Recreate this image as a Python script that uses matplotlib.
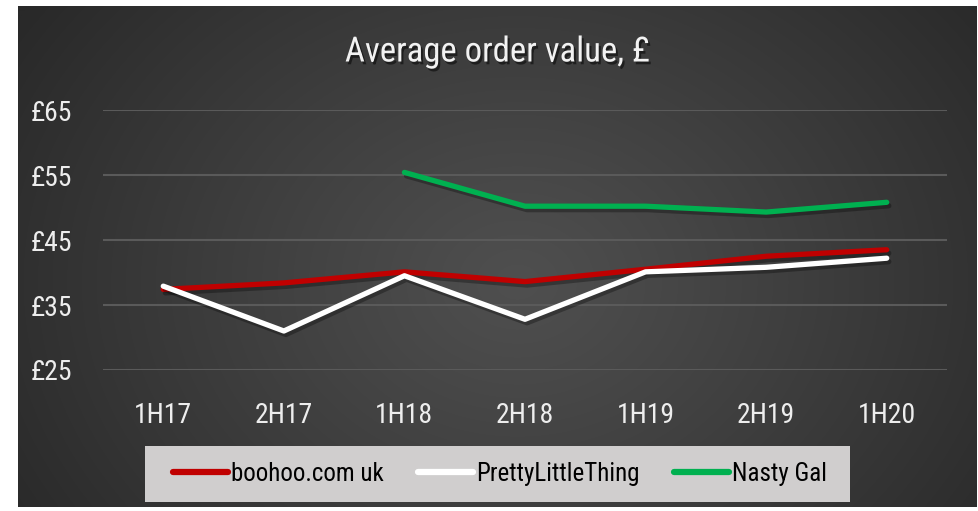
import numpy as np
import matplotlib
matplotlib.use("Agg")
import matplotlib.pyplot as plt
import matplotlib.patheffects as pe
from matplotlib import font_manager as fm
from matplotlib.patches import Rectangle

# ---- data ----
periods = ["1H17", "2H17", "1H18", "2H18", "1H19", "2H19", "1H20"]
boohoo = [37.4, 38.4, 40.1, 38.6, 40.5, 42.5, 43.5]
plt_vals = [37.9, 31.0, 39.5, 32.8, 40.1, 40.8, 42.2]
nasty_gal = [np.nan, np.nan, 55.4, 50.2, 50.2, 49.3, 50.8]
series_names = ["boohoo.com uk", "PrettyLittleThing", "Nasty Gal"]
yticks = [25, 35, 45, 55, 65]
ytick_labels = ["£25", "£35", "£45", "£55", "£65"]
title = "Average order value, £"

# ---- font selection (prefer a narrow face) ----
names = {f.name for f in fm.fontManager.ttflist}
font_family = None
font_stretch = "normal"
for cand in ["Liberation Sans Narrow", "Roboto Condensed", "Open Sans Condensed",
             "DejaVu Sans Condensed", "Noto Sans Condensed"]:
    if cand in names:
        font_family = cand
        break
if font_family is None:
    font_family = "Roboto"
plt.rcParams["font.family"] = [font_family, "DejaVu Sans"]

W, H = 979, 511
fig = plt.figure(figsize=(W / 100, H / 100), dpi=100)
fig.patch.set_facecolor("white")

def fx(px):
    return px / W

def fy(py):
    return 1 - py / H

# ---- background radial gradient panel ----
bx0, by0, bx1, by1 = 18, 6, 977, 507
bg = fig.add_axes([fx(bx0), fy(by1), fx(bx1 - bx0), (by1 - by0) / H])
bg.set_axis_off()
ny, nx = 250, 480
yy, xx = np.mgrid[0:ny, 0:nx]
cx, cy = nx * 0.52, ny * 0.55
r = np.sqrt(((xx - cx) / (nx * 0.62)) ** 2 + ((yy - cy) / (ny * 0.95)) ** 2)
r = np.clip(r, 0, 1)
cin, cout = 0x4f / 255, 0x29 / 255
v = cin + (cout - cin) * r ** 1.1
img = np.dstack([v, v, v])
bg.imshow(img, aspect="auto", extent=[0, 1, 0, 1], interpolation="bilinear")
bg.set_xlim(0, 1)
bg.set_ylim(0, 1)

# ---- legend box ----
fig.patches.append(Rectangle((fx(145), fy(502)), fx(850 - 145), (502 - 446) / H,
                             transform=fig.transFigure, facecolor="#D0CECE",
                             edgecolor="none", zorder=1))

# ---- main axes ----
ax = fig.add_axes([fx(103), fy(370), fx(947 - 103), (370 - 110) / H])
ax.patch.set_alpha(0)
x = np.arange(len(periods))
ax.set_xlim(-0.5, len(periods) - 0.5)
ax.set_ylim(25, 65)
ax.set_yticks(yticks)
ax.set_yticklabels(ytick_labels)
ax.set_xticks(x)
ax.set_xticklabels(periods)
ax.tick_params(axis="both", length=0, colors="#EDEDED", labelsize=20)
ax.tick_params(axis="y", pad=22)
ax.tick_params(axis="x", pad=23)
for s in ax.spines.values():
    s.set_visible(False)
ax.yaxis.grid(True, color="#5A5A5A", linewidth=1.5)
ax.set_axisbelow(True)

shadow = [pe.SimpleLineShadow(offset=(1.5, -2.5), shadow_color="black", alpha=0.3), pe.Normal()]
lw = 3.8
for vals, col, name in [(boohoo, "#C00000", series_names[0]),
                        (plt_vals, "#FFFFFF", series_names[1]),
                        (nasty_gal, "#00B050", series_names[2])]:
    ax.plot(x, vals, color=col, lw=lw, solid_capstyle="round", solid_joinstyle="round",
            label=name, path_effects=shadow)

# ---- title ----
fig.text(fx(497.5), fy(52), title, ha="center", va="center", color="#F2F2F2",
         fontsize=25, path_effects=[pe.withSimplePatchShadow(offset=(1.5, -2), shadow_rgbFace="black", alpha=0.5)])

# ---- legend ----
handles, labels = ax.get_legend_handles_labels()
leg = fig.legend(handles, labels, loc="center", bbox_to_anchor=(fx(500), fy(474)),
                 ncol=3, frameon=False, fontsize=18,
                 handlelength=2.2, handletextpad=0.1, columnspacing=1.4,
                 borderpad=0.45, borderaxespad=0)
leg.set_zorder(2)
for t in leg.get_texts():
    t.set_color("black")
for h in leg.legend_handles:
    h.set_path_effects([])
    h.set_linewidth(4.5)

fig.savefig("out.png", dpi=100, facecolor=fig.get_facecolor())
